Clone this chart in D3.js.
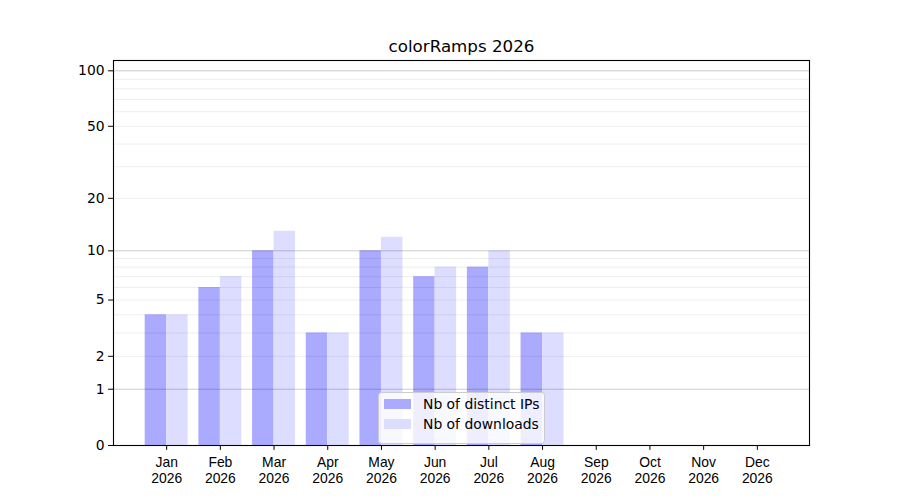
<!DOCTYPE html>
<html><head><meta charset="utf-8">
<script src="https://cdn.jsdelivr.net/npm/d3@7"></script>
<style>body{margin:0;background:#fff}svg{display:block;font-family:"DejaVu Sans",sans-serif}</style>
</head><body>
<svg id="c" width="900" height="500"></svg>
<script>
const months = ["Jan","Feb","Mar","Apr","May","Jun","Jul","Aug","Sep","Oct","Nov","Dec"];
const year = "2026";
const distinctIPs = [4,6,10,3,10,7,8,3,0,0,0,0];
const downloads = [4,7,13,3,12,8,10,3,0,0,0,0];
const yTicks = [0,1,2,5,10,20,50,100];
const majorGrid = [1,10,100];
const minorGrid = [2,3,4,5,6,7,8,9,20,30,40,50,60,70,80,90];
const title = "colorRamps 2026";
const seriesNames = ["Nb of distinct IPs","Nb of downloads"];

const L=113, R=810, T=60, B=445;
const svg = d3.select("#c");
const x = d3.scaleLinear().domain([-0.99, 11.99]).range([L, R]);
const y = d3.scaleSymlog().constant(1).domain([0, 113.7]).range([B, T]);
const bw = x(0.4) - x(0);

// bars
const g = svg.append("g");
g.selectAll(".ip").data(distinctIPs).join("rect")
  .attr("x",(d,i)=>x(i-0.4)).attr("width",bw)
  .attr("y",d=>y(d)).attr("height",d=>B-y(d))
  .attr("fill","#aaaaff");
g.selectAll(".dl").data(downloads).join("rect")
  .attr("x",(d,i)=>x(i)).attr("width",bw)
  .attr("y",d=>y(d)).attr("height",d=>B-y(d))
  .attr("fill","#ddddff");

// grid
svg.append("g").selectAll("line").data(minorGrid).join("line")
  .attr("x1",L).attr("x2",R).attr("y1",d=>y(d)+0.5).attr("y2",d=>y(d)+0.5)
  .attr("stroke","#000").attr("stroke-opacity",0.07).attr("stroke-width",1);
svg.append("g").selectAll("line").data(majorGrid).join("line")
  .attr("x1",L).attr("x2",R).attr("y1",d=>y(d)+0.5).attr("y2",d=>y(d)+0.5)
  .attr("stroke","#000").attr("stroke-opacity",0.2).attr("stroke-width",1);

// axes
const yAxis = d3.axisLeft(y).tickValues(yTicks).tickFormat(d3.format("d")).tickSize(4.9).tickPadding(3.5);
const ya = svg.append("g").attr("transform",`translate(${L},0)`).call(yAxis);
ya.select(".domain").remove();
ya.selectAll("text").attr("font-size","13.9px").attr("fill","#000").attr("font-family","DejaVu Sans");

const xAxis = d3.axisBottom(x).tickValues(d3.range(12)).tickFormat(()=>"").tickSize(4.9);
const xa = svg.append("g").attr("transform",`translate(0,${B})`).call(xAxis);
xa.select(".domain").remove();
xa.selectAll(".tick").each(function(d){
  const t = d3.select(this).append("text").attr("fill","#000").attr("font-size","13.9px")
    .attr("text-anchor","middle");
  t.append("tspan").attr("x",0).attr("y",21.5).text(months[d]);
  t.append("tspan").attr("x",0).attr("y",37.5).text(year);
});

// frame
svg.append("rect").attr("x",L+0.5).attr("y",T+0.5).attr("width",R-L-1).attr("height",B-T)
  .attr("fill","none").attr("stroke","#000").attr("stroke-width",1.1);

// title
svg.append("text").attr("x",(L+R)/2).attr("y",52).attr("text-anchor","middle")
  .attr("font-size","16.7px").attr("fill","#000").text(title);

// legend
const lg = svg.append("g");
lg.append("rect").attr("x",378.5).attr("y",392.5).attr("width",166).attr("height",51).attr("rx",3)
  .attr("fill","#fff").attr("fill-opacity",0.8).attr("stroke","#cccccc");
const cols = ["#aaaaff","#ddddff"];
seriesNames.forEach((n,i)=>{
  lg.append("rect").attr("x",384).attr("y",399+i*20).attr("width",27).attr("height",10).attr("fill",cols[i]);
  lg.append("text").attr("x",423).attr("y",409+i*20).attr("font-size","13.9px").attr("fill","#000").text(n);
});
</script>
</body></html>
